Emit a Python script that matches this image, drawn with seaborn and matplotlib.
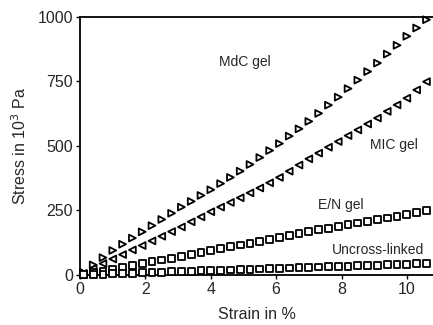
import numpy as np
import pandas as pd
import matplotlib
matplotlib.use("Agg")
import matplotlib.pyplot as plt
import seaborn as sns

# strain (%) and stress (10^3 Pa)
strain = [0.1, 0.4, 0.7, 1.0, 1.3, 1.6, 1.9, 2.2, 2.5, 2.8, 3.1, 3.4, 3.7, 4.0,
          4.3, 4.6, 4.9, 5.2, 5.5, 5.8, 6.1, 6.4, 6.7, 7.0, 7.3, 7.6, 7.9, 8.2,
          8.5, 8.8, 9.1, 9.4, 9.7, 10.0, 10.3, 10.6]

mdc = [10, 39, 67, 95, 119, 143, 167, 191, 215, 239, 263, 285, 308, 330,
       354, 378, 402, 428, 455, 482, 509, 538, 566, 595, 626, 658, 689, 722,
       755, 788, 821, 856, 890, 925, 957, 989]

mic = [6, 25, 44, 62, 79, 97, 114, 132, 150, 168, 186, 206, 225, 245,
       263, 281, 299, 318, 337, 357, 378, 402, 426, 450, 472, 495, 517, 540,
       562, 585, 608, 634, 659, 685, 717, 749]

en = [2, 9, 15, 22, 29, 36, 44, 51, 58, 65, 72, 80, 87, 95,
      102, 109, 116, 123, 130, 138, 146, 153, 161, 168, 175, 181, 188, 194,
      201, 207, 214, 221, 228, 235, 242, 250]

uncross = [1, 2, 3, 5, 6, 7, 8, 9, 11, 12, 13, 14, 16, 17,
           18, 19, 21, 22, 23, 25, 26, 27, 28, 30, 31, 32, 33, 34,
           36, 37, 38, 39, 41, 42, 43, 45]

series = {"MdC gel": mdc, "MIC gel": mic, "E/N gel": en, "Uncross-linked": uncross}
markers = {"MdC gel": ">", "MIC gel": "<", "E/N gel": "s", "Uncross-linked": "s"}

df = pd.concat([pd.DataFrame({"strain": strain, "stress": v, "gel": k})
                for k, v in series.items()], ignore_index=True)

sns.set_style("ticks")
plt.rcParams['font.family'] = ['Liberation Sans', 'DejaVu Sans']

fig = plt.figure(figsize=(4.33, 3.25), dpi=100)
ax = fig.add_axes([0.185, 0.154, 0.815, 0.794])

sns.scatterplot(data=df, x="strain", y="stress", style="gel", markers=markers,
                color="white", edgecolor="black", linewidth=1.3, s=24,
                legend=False, ax=ax, clip_on=False, zorder=3)

ax.set_xlim(0, 10.8)
ax.set_ylim(0, 1000)
ax.set_xticks([0, 2, 4, 6, 8, 10])
ax.set_yticks([0, 250, 500, 750, 1000])
ax.tick_params(labelsize=11.5, length=3, width=1, color="black", pad=2)
ax.set_xlabel("Strain in %", fontsize=11.5, labelpad=7)
ax.set_ylabel("Stress in 10$^3$ Pa", fontsize=11.5, labelpad=6)

for side in ["left", "top", "bottom"]:
    ax.spines[side].set_linewidth(1.3)
    ax.spines[side].set_color("black")
ax.spines["right"].set_visible(False)

ax.text(5.05, 826, "MdC gel", ha="center", va="center", fontsize=10)
ax.text(9.6, 504, "MIC gel", ha="center", va="center", fontsize=10)
ax.text(7.98, 271, "E/N gel", ha="center", va="center", fontsize=10)
ax.text(9.11, 97, "Uncross-linked", ha="center", va="center", fontsize=10)

fig.savefig("out.png", dpi=100)
